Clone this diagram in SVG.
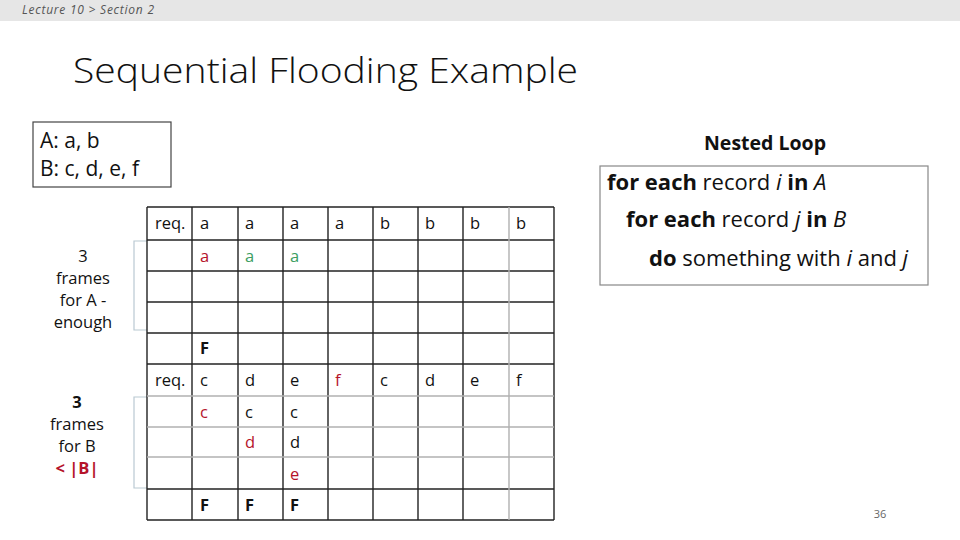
<svg xmlns="http://www.w3.org/2000/svg" width="960" height="540" viewBox="0 0 960 540">
<style>
.t{font-family:"Open Sans","Liberation Sans",sans-serif;fill:#111}
.c{font-family:"Open Sans","Liberation Sans",sans-serif;font-size:16.5px;fill:#111}
.red{fill:#b5132b}
.grn{fill:#3c9e62}
.b{font-weight:bold}
.i{font-style:italic}
.ln{stroke:#222;stroke-width:1.4}
.lg{stroke:#b0b0b0;stroke-width:1.4}
.br{fill:none;stroke:#b9c9d2;stroke-width:1.2}
</style>
<rect x="0" y="0" width="960" height="540" fill="#fff"/>
<rect x="0" y="0" width="960" height="21" fill="#e6e6e6"/>
<text x="22" y="14" class="t i" style="font-size:12px;fill:#555" textLength="132">Lecture 10 &gt; Section 2</text>
<text x="73" y="83" class="t" style="font-size:35px;font-weight:300" textLength="505" lengthAdjust="spacingAndGlyphs">Sequential Flooding Example</text>

<g id="sets">
<rect x="33" y="122" width="138" height="65" fill="#fff" stroke="#444" stroke-width="1.2"/>
<text x="40" y="148" class="t" style="font-size:21px">A: a, b</text>
<text x="40" y="176" class="t" style="font-size:21px">B: c, d, e, f</text>
</g>

<g id="nested-loop">
<text x="765" y="150" class="t b" style="font-size:19.5px" text-anchor="middle">Nested Loop</text>
<rect x="600" y="166" width="328" height="119" fill="#fff" stroke="#888" stroke-width="1.2"/>
<text x="607" y="190" class="t" style="font-size:22px"><tspan class="b">for each</tspan> record <tspan class="i">i</tspan> <tspan class="b">in</tspan> <tspan class="i">A</tspan></text>
<text x="626" y="227" class="t" style="font-size:22px"><tspan class="b">for each</tspan> record <tspan class="i">j</tspan> <tspan class="b">in</tspan> <tspan class="i">B</tspan></text>
<text x="649" y="266" class="t" style="font-size:22px"><tspan class="b">do</tspan> something with <tspan class="i">i</tspan> and <tspan class="i">j</tspan></text>
</g>

<g id="label-a">
<text class="c" text-anchor="middle" x="83" y="262">3</text>
<text class="c" text-anchor="middle" x="83" y="284">frames</text>
<text class="c" text-anchor="middle" x="83" y="306">for A -</text>
<text class="c" text-anchor="middle" x="83" y="328">enough</text>
</g>
<g id="label-b">
<text class="c b" text-anchor="middle" x="77" y="408">3</text>
<text class="c" text-anchor="middle" x="77" y="430">frames</text>
<text class="c" text-anchor="middle" x="77" y="452">for B</text>
<text class="c b red" text-anchor="middle" x="77" y="474">&lt; |B|</text>
</g>

<g id="connectors">
<path class="br" d="M147,241 H134 V330 H147"/>
<path class="br" d="M147,397 H134 V488 H147"/>
</g>

<g id="table">
<rect x="147" y="207" width="407" height="313" fill="#fff"/>
<g class="ln">
<line x1="147" y1="207" x2="554" y2="207"/>
<line x1="147" y1="240" x2="554" y2="240"/>
<line x1="147" y1="271" x2="554" y2="271"/>
<line x1="147" y1="302" x2="554" y2="302"/>
<line x1="147" y1="333" x2="554" y2="333"/>
<line x1="147" y1="364" x2="554" y2="364"/>
<line x1="147" y1="489" x2="554" y2="489"/>
<line x1="147" y1="520" x2="554" y2="520"/>
<line x1="147" y1="207" x2="147" y2="520"/>
<line x1="192" y1="207" x2="192" y2="520"/>
<line x1="238" y1="207" x2="238" y2="520"/>
<line x1="283" y1="207" x2="283" y2="520"/>
<line x1="328" y1="207" x2="328" y2="520"/>
<line x1="373" y1="207" x2="373" y2="520"/>
<line x1="418" y1="207" x2="418" y2="520"/>
<line x1="463" y1="207" x2="463" y2="520"/>
<line x1="554" y1="207" x2="554" y2="520"/>
</g>
<g class="lg">
<line x1="147" y1="396" x2="554" y2="396"/>
<line x1="147" y1="427" x2="554" y2="427"/>
<line x1="147" y1="457" x2="554" y2="457"/>
<line x1="509" y1="207" x2="509" y2="520"/>
</g>
<g class="c">
<text x="155" y="229">req.</text>
<text x="200" y="229">a</text><text x="245" y="229">a</text><text x="290" y="229">a</text><text x="335" y="229">a</text>
<text x="380" y="229">b</text><text x="425" y="229">b</text><text x="470" y="229">b</text><text x="516" y="229">b</text>
<text x="200" y="262" class="red">a</text><text x="245" y="262" class="grn">a</text><text x="290" y="262" class="grn">a</text>
<text x="200" y="354" class="b">F</text>
<text x="155" y="386">req.</text>
<text x="200" y="386">c</text><text x="245" y="386">d</text><text x="290" y="386">e</text><text x="335" y="386" class="red">f</text>
<text x="380" y="386">c</text><text x="425" y="386">d</text><text x="470" y="386">e</text><text x="516" y="386">f</text>
<text x="200" y="418" class="red">c</text><text x="245" y="418">c</text><text x="290" y="418">c</text>
<text x="245" y="448" class="red">d</text><text x="290" y="448">d</text>
<text x="290" y="480" class="red">e</text>
<text x="200" y="511" class="b">F</text><text x="245" y="511" class="b">F</text><text x="290" y="511" class="b">F</text>
</g>
</g>

<text x="880" y="518" class="t" style="font-size:11px;fill:#666" text-anchor="middle">36</text>
</svg>
